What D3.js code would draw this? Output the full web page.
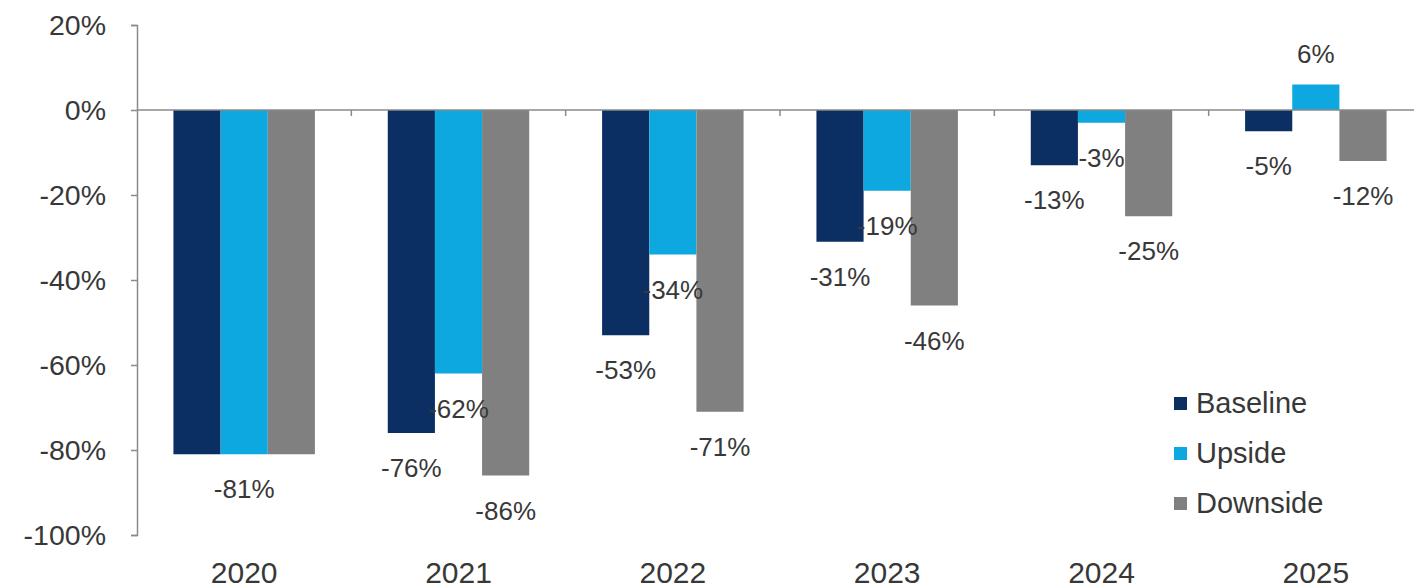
<!DOCTYPE html>
<html>
<head>
<meta charset="utf-8">
<script src="https://cdn.jsdelivr.net/npm/d3@7"></script>
<style>
  body { margin: 0; background: #fff; }
  text { font-family: "Liberation Sans", Arial, sans-serif; fill: #383838; }
</style>
</head>
<body>
<div id="chart"></div>
<script>
var width = 1414,
    height = 588;

var years = ["2020", "2021", "2022", "2023", "2024", "2025"];
var seriesNames = ["Baseline", "Upside", "Downside"];
var baseline = [-81, -76, -53, -31, -13, -5];
var upside = [-81, -62, -34, -19, -3, 6];
var downside = [-81, -86, -71, -46, -25, -12];
var yTicks = [20, 0, -20, -40, -60, -80, -100];
var colors = ["#0b2f63", "#0ca8df", "#808080"];

var series = [baseline, upside, downside];

var svg = d3.select("#chart")
    .append("svg")
    .attr("width", width)
    .attr("height", height);

var x = d3.scaleBand()
    .domain(years)
    .range([137, 1423])
    .paddingInner(0.34)
    .paddingOuter(0.17);

var xs = d3.scaleBand()
    .domain(seriesNames)
    .range([0, x.bandwidth()]);

var y = d3.scaleLinear()
    .domain([-100, 20])
    .range([535, 25]);

/* y axis */
var yAxis = svg.append("g")
    .attr("transform", "translate(137,0)")
    .call(d3.axisLeft(y).tickValues(yTicks).tickSize(6).tickPadding(25)
        .tickFormat(function(d) { return d + "%"; }));
yAxis.select(".domain").attr("stroke", "#8a8a8a").attr("stroke-width", 1.5);
yAxis.selectAll(".tick line").attr("stroke", "#8a8a8a").attr("stroke-width", 1.5);
yAxis.selectAll(".tick text")
    .attr("font-size", 28.5)
    .attr("font-family", "Liberation Sans, Arial, sans-serif")
    .attr("fill", "#383838");

/* bars */
seriesNames.forEach(function(name, si) {
    svg.append("g").selectAll("rect")
        .data(series[si])
        .enter().append("rect")
        .attr("x", function(d, i) { return x(years[i]) + xs(name); })
        .attr("width", xs.bandwidth())
        .attr("y", function(d) { return y(Math.max(0, d)); })
        .attr("height", function(d) { return Math.abs(y(d) - y(0)); })
        .attr("fill", colors[si]);
});

/* zero line with category ticks */
svg.append("line")
    .attr("x1", 137).attr("x2", width)
    .attr("y1", y(0)).attr("y2", y(0))
    .attr("stroke", "#8a8a8a").attr("stroke-width", 1.5);
years.forEach(function(yr, i) {
    if (i == 0) return;
    var bx = x(yr) - x.step() * x.paddingInner() / 2;
    svg.append("line")
        .attr("x1", bx).attr("x2", bx)
        .attr("y1", y(0)).attr("y2", y(0) + 6)
        .attr("stroke", "#8a8a8a").attr("stroke-width", 1.5);
});

/* data labels */
seriesNames.forEach(function(name, si) {
    svg.append("g").selectAll("text")
        .data(series[si])
        .enter().append("text")
        .filter(function(d, i) {
            // when all three scenarios are equal only one label is shown
            var same = baseline[i] == upside[i] && upside[i] == downside[i];
            return !same || si == 1;
        })
        .attr("x", function(d) {
            var i = series[si].indexOf(d);
            return x(years[i]) + xs(name) + xs.bandwidth() / 2;
        })
        .attr("y", function(d) { return d < 0 ? y(d) + 44 : y(d) - 22; })
        .attr("text-anchor", "middle")
        .attr("font-size", 26)
        .text(function(d) { return d + "%"; });
});

/* x labels */
svg.append("g").selectAll("text")
    .data(years)
    .enter().append("text")
    .attr("x", function(d) { return x(d) + x.bandwidth() / 2; })
    .attr("y", 583)
    .attr("text-anchor", "middle")
    .attr("font-size", 30)
    .text(function(d) { return d; });

/* legend */
var legend = svg.append("g")
    .attr("transform", "translate(1174,403)");
seriesNames.forEach(function(name, si) {
    var g = legend.append("g").attr("transform", "translate(0," + si * 50 + ")");
    g.append("rect")
        .attr("x", 0).attr("y", -6)
        .attr("width", 13).attr("height", 13)
        .attr("fill", colors[si]);
    g.append("text")
        .attr("x", 22).attr("y", 10)
        .attr("font-size", 29)
        .text(name);
});
</script>
</body>
</html>
